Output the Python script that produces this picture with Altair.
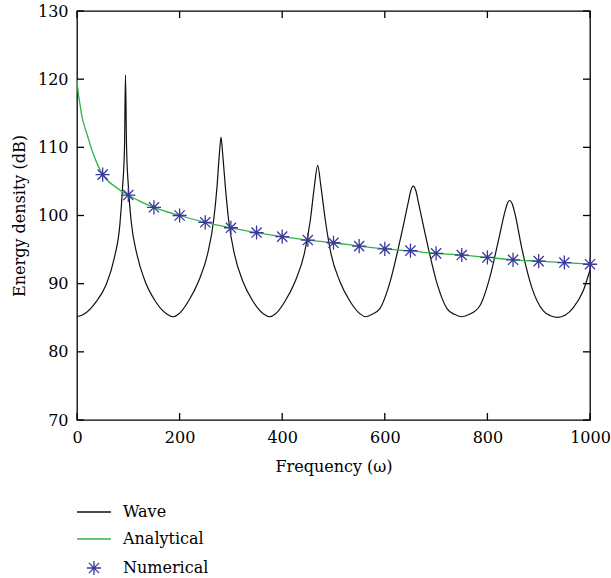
import altair as alt
import pandas as pd

# ---- data ----
names = ["Wave", "Analytical", "Numerical"]
colors = ["#111111", "#2fb34a", "#3a3a99"]

wave_x = [0, 14, 36.8, 56.5, 72.5, 83.6, 88.8, 92.6, 94.5, 96.6, 100.2, 105.4, 116.5, 132.5, 152.2, 174.9,
          187.5, 198.2, 217.7, 237.2, 254.7, 266.4, 272.9, 277.5, 280.7, 284.0, 289.2, 295.6, 306.7, 323.0, 342.4, 363.9,
          375.3, 386.6, 406.1, 425.6, 443.1, 454.8, 462.6, 469.1, 475.6, 484.1, 495.1, 512.0, 531.5, 552.3,
          562.7, 575.0, 590.0, 610.0, 629.6, 645.9, 650.5, 655.6, 660.7, 665.3, 681.6, 701.2, 721.6, 735.6,
          750.0, 765.0, 785.6, 805.0, 822.0, 834.3, 838.5, 843.4, 848.5, 853.8, 866.8, 886.3, 909.0, 923.0,
          937.5, 952.0, 967.5, 987.0, 1000.0]
wave_y = [85.15, 85.55, 87.3, 89.8, 93.7, 98.7, 104.1, 110.0, 120.6, 110.0, 104.2, 99.3, 94.4, 90.4, 87.5, 85.55,
          85.15, 85.55, 87.5, 90.4, 94.4, 99.3, 104.2, 109.0, 111.5, 109.0, 104.2, 99.3, 94.4, 90.4, 87.5, 85.55,
          85.15, 85.55, 87.5, 90.4, 94.4, 99.3, 104.2, 107.35, 104.2, 99.3, 94.4, 90.4, 87.5, 85.55,
          85.15, 85.5, 86.3, 90.2, 96.3, 102.0, 103.6, 104.3, 103.6, 102.0, 96.3, 90.2, 86.3, 85.5,
          85.15, 85.5, 86.8, 91.0, 96.5, 100.6, 101.7, 102.2, 101.7, 100.25, 95.3, 89.5, 86.0, 85.3,
          85.05, 85.4, 86.5, 89.0, 92.0]

ana_x = [0, 2, 5, 10, 15, 20, 30, 40, 50, 75, 100, 125, 150, 200, 250, 300, 350, 400, 450, 500,
         550, 600, 650, 700, 750, 800, 850, 900, 950, 1000]
ana_y = [120.0, 118.3, 116.7, 114.4, 113.0, 111.8, 109.4, 107.5, 106.0, 104.2, 103.0, 102.0, 101.2, 100.0, 99.0,
         98.2, 97.5, 96.9, 96.4, 96.0, 95.5, 95.1, 94.8, 94.45, 94.2, 93.85, 93.5, 93.3, 93.1, 92.85]

num_x = [50, 100, 150, 200, 250, 300, 350, 400, 450, 500, 550, 600, 650, 700, 750, 800, 850, 900, 950, 1000]
num_y = [106.0, 103.0, 101.2, 100.0, 99.0, 98.2, 97.5, 96.9, 96.4, 96.0, 95.5, 95.1, 94.85, 94.45, 94.2,
         93.85, 93.5, 93.3, 93.1, 92.85]

x_ticks = [0, 200, 400, 600, 800, 1000]
y_ticks = [70, 80, 90, 100, 110, 120, 130]

W, H = 513, 409
X0, X1, Y0, Y1 = 0, 1000, 70, 130
FONT = "DejaVu Serif"
FS = 16

line_path = "M-2.4,0L2.4,0"
star_path = "M-1,0L1,0M0,-1L0,1M-0.72,-0.72L0.72,0.72M-0.72,0.72L0.72,-0.72"
shapes = [line_path, line_path, star_path]

# tick glyphs (one unit = half the symbol width; size 196 -> 7 px ticks)
tick_up, tick_down = "M0,0L0,-1", "M0,0L0,1"
tick_right, tick_left = "M0,0L1,0", "M0,0L-1,0"
TICK_SIZE = 196

wave_df = pd.DataFrame({"freq": wave_x, "db": wave_y, "series": names[0]})
ana_df = pd.DataFrame({"freq": ana_x, "db": ana_y, "series": names[1]})
num_df = pd.DataFrame({"freq": num_x, "db": num_y, "series": names[2]})
xt_df = pd.DataFrame({"freq": x_ticks})
yt_df = pd.DataFrame({"db": y_ticks})

xscale = alt.Scale(domain=[X0, X1], nice=False, zero=False)
yscale = alt.Scale(domain=[Y0, Y1], nice=False, zero=False)

leg = alt.Legend(orient="none", legendX=9, legendY=493, title=None, labelFont=FONT,
                 labelFontSize=FS, labelColor="black", labelOffset=21, rowPadding=11, padding=0,
                 symbolSize=200, symbolStrokeWidth=1.3)
color = alt.Color("series:N", scale=alt.Scale(domain=names, range=colors), legend=leg)

x_enc = alt.X("freq:Q", scale=xscale,
              axis=alt.Axis(orient="bottom", values=x_ticks, ticks=False, domain=False, labelPadding=9,
                            labelFlush=False, title="Frequency (ω)", titlePadding=13, format="d",
                            grid=False))
y_enc = alt.Y("db:Q", scale=yscale,
              axis=alt.Axis(orient="left", values=y_ticks, ticks=False, domain=False, labelPadding=9,
                            labelFlush=False, title="Energy density (dB)", titlePadding=10, grid=False))

wave = alt.Chart(wave_df).mark_line(strokeWidth=1.2, interpolate="monotone").encode(
    x=x_enc, y=y_enc, color=color)

ana = alt.Chart(ana_df).mark_line(strokeWidth=1.3, interpolate="monotone").encode(
    x=x_enc, y=y_enc, color=color)

num = alt.Chart(num_df).mark_point(filled=False, size=200, strokeWidth=1.3, opacity=1).encode(
    x=x_enc, y=y_enc, color=color,
    shape=alt.Shape("series:N", scale=alt.Scale(domain=names, range=shapes), legend=leg),
)

# inward tick marks on all four sides, drawn as point glyphs placed through the shared scales
pt_kw = dict(filled=False, size=TICK_SIZE, strokeWidth=1.3, opacity=1)
t_bottom = alt.Chart(xt_df).mark_point(shape=tick_up, **pt_kw).encode(
    x=x_enc, y=alt.datum(Y0), color=alt.value("#000000"))
t_top = alt.Chart(xt_df).mark_point(shape=tick_down, **pt_kw).encode(
    x=x_enc, y=alt.datum(Y1), color=alt.value("#000000"))
t_left = alt.Chart(yt_df).mark_point(shape=tick_right, **pt_kw).encode(
    y=y_enc, x=alt.datum(X0), color=alt.value("#000000"))
t_right = alt.Chart(yt_df).mark_point(shape=tick_left, **pt_kw).encode(
    y=y_enc, x=alt.datum(X1), color=alt.value("#000000"))

chart = alt.layer(wave, ana, num, t_bottom, t_top, t_left, t_right).properties(
    width=W, height=H,
    autosize=alt.AutoSizeParams(type="none"),
    padding={"left": 77, "top": 11, "right": 21, "bottom": 158},
).configure(background="white").configure_view(stroke="black", strokeWidth=1.3).configure_axis(
    labelFont=FONT, labelFontSize=FS, labelColor="black", titleFont=FONT, titleFontSize=FS,
    titleFontWeight="normal", titleColor="black", grid=False,
)

chart.save("out.html", embed_options={"renderer": "svg", "actions": False})
